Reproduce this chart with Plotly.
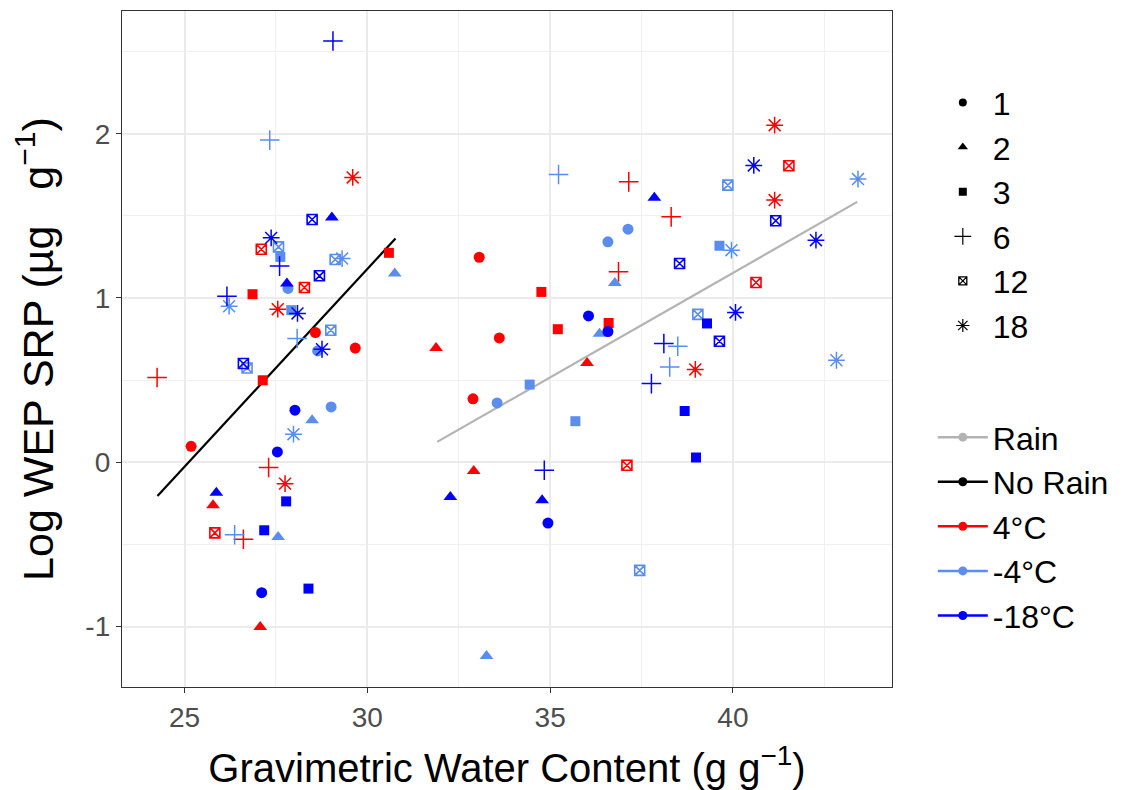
import plotly.graph_objects as go

# ---------------- data ----------------
gwc = [29.06, 27.33, 29.60, 28.49, 29.03, 27.37, 27.10, 27.57, 27.62, 27.60,
       30.59, 30.75, 29.12, 29.31, 28.69, 28.28, 27.80, 27.83, 26.86, 26.16,
       26.22, 27.55, 27.92, 28.09, 28.58, 29.00, 28.08, 29.67, 28.76, 28.64,
       26.61, 26.71, 24.25, 27.14, 28.02, 29.01, 28.49, 27.98, 25.18, 27.54,
       27.30, 27.75, 25.87, 25.78, 27.78, 25.83, 26.37, 26.61, 27.18, 27.56,
       27.11, 28.39, 27.07,
       35.23, 37.15, 37.85, 37.13, 36.58, 33.06, 36.87, 36.77, 34.76, 36.05,
       35.21, 36.60, 36.58, 36.35, 33.61, 31.88, 36.01, 34.44, 37.77, 32.89,
       33.55, 35.69, 37.10, 32.91, 34.84, 32.27, 34.78, 34.94, 37.45, 33.26,
       41.14, 40.57, 41.53, 43.42, 39.86, 41.14, 38.31, 41.17, 42.27, 39.63,
       39.96, 38.54, 40.63, 39.04, 39.29, 40.07, 39.63, 38.11, 38.49, 38.27,
       38.97, 42.83, 38.68, 38.99]
log_srp = [2.564, 1.961, 1.734, 1.478, 1.490, 1.366, 1.297, 1.311, 1.250, 1.194,
           1.275, 1.149, 1.234, 1.240, 1.135, 1.064, 1.088, 1.058, 1.023, 1.011,
           0.950, 0.932, 0.926, 0.906, 0.790, 0.804, 0.753, 0.695, 0.688, 0.678,
           0.601, 0.574, 0.516, 0.499, 0.317, 0.337, 0.256, 0.171, 0.097, 0.063,
           -0.032, -0.130, -0.185, -0.262, -0.238, -0.430, -0.441, -0.469, -0.414, -0.455,
           -0.794, -0.769, -1.003,
           1.752, 1.707, 1.610, 1.419, 1.342, 1.248, 1.159, 1.092, 1.037, 0.891,
           0.810, 0.848, 0.796, 0.782, 0.757, 0.695, 0.605, 0.473, 0.479, 0.386,
           0.361, 0.250, -0.018, -0.053, -0.049, -0.211, -0.231, -0.370, -0.658, -1.180,
           2.052, 1.807, 1.805, 1.724, 1.687, 1.596, 1.494, 1.470, 1.352, 1.318,
           1.291, 1.210, 1.094, 0.900, 0.845, 0.912, 0.737, 0.723, 0.706, 0.580,
           0.565, 0.621, 0.312, 0.029]
temp = ["-18°C", "-4°C", "4°C", "-18°C", "-18°C", "-18°C", "4°C", "-4°C", "-4°C", "-18°C",
        "4°C", "-4°C", "-4°C", "-4°C", "-18°C", "4°C", "-18°C", "-4°C", "4°C", "-18°C",
        "-4°C", "4°C", "-4°C", "-18°C", "4°C", "-4°C", "-4°C", "4°C", "-18°C", "-4°C",
        "-18°C", "-4°C", "4°C", "4°C", "-18°C", "-4°C", "-4°C", "-4°C", "4°C", "-18°C",
        "4°C", "4°C", "-18°C", "4°C", "-18°C", "4°C", "-4°C", "4°C", "-18°C", "-4°C",
        "-18°C", "-18°C", "4°C",
        "-4°C", "4°C", "-18°C", "-4°C", "-4°C", "4°C", "4°C", "-4°C", "4°C", "-18°C",
        "4°C", "4°C", "-18°C", "-4°C", "4°C", "4°C", "4°C", "-4°C", "-18°C", "4°C",
        "-4°C", "-4°C", "4°C", "4°C", "-18°C", "-18°C", "-18°C", "-18°C", "-4°C", "-4°C",
        "4°C", "-18°C", "4°C", "-4°C", "-4°C", "4°C", "4°C", "-18°C", "-18°C", "-4°C",
        "-4°C", "-18°C", "4°C", "-4°C", "-18°C", "-18°C", "-18°C", "-18°C", "-4°C", "-4°C",
        "4°C", "-4°C", "-18°C", "-18°C"]
day = [6, 6, 18, 12, 2, 18, 12, 12, 3, 6,
       3, 2, 12, 18, 12, 12, 2, 1, 3, 6,
       18, 18, 3, 18, 1, 12, 6, 1, 18, 1,
       12, 12, 6, 3, 1, 1, 2, 18, 1, 1,
       6, 18, 2, 2, 3, 12, 6, 6, 3, 2,
       1, 3, 2,
       6, 6, 2, 1, 1, 1, 6, 2, 3, 1,
       3, 3, 1, 2, 1, 2, 2, 3, 6, 1,
       1, 3, 12, 2, 6, 2, 2, 1, 12, 2,
       18, 18, 12, 18, 12, 18, 6, 12, 18, 3,
       18, 12, 12, 12, 3, 18, 12, 6, 6, 6,
       18, 18, 3, 3]

# regression lines (end points)
norain_fit_x = [24.26, 30.77]
norain_fit_y = [-0.205, 1.362]
rain_fit_x = [31.91, 43.40]
rain_fit_y = [0.124, 1.585]

day_levels = [1, 2, 3, 6, 12, 18]
temp_levels = ["4°C", "-4°C", "-18°C"]
x_ticks = [25, 30, 35, 40]
y_ticks = [-1, 0, 1, 2]

# ---------------- styling ----------------
temp_colors = {"4°C": "#FF0000", "-4°C": "#5A8DEE", "-18°C": "#0000FF"}
sym = {1: ("circle", 11, 0), 2: ("triangle-up", 12, 0), 3: ("square", 10, 0),
       6: ("cross-thin-open", 14, 1.5), 12: ("square-x-open", 10, 1.6),
       18: ("asterisk-open", 14, 1.5)}
leg_sym_size = {1: 8, 2: 9, 3: 8, 6: 12, 12: 8, 18: 11}
FONT = "Liberation Sans, Arial, sans-serif"

fig = go.Figure()

fig.add_trace(go.Scatter(x=norain_fit_x, y=norain_fit_y, mode="lines",
                         line=dict(color="black", width=2.2), showlegend=False,
                         hoverinfo="skip"))
fig.add_trace(go.Scatter(x=rain_fit_x, y=rain_fit_y, mode="lines",
                         line=dict(color="#B3B3B3", width=2.2), showlegend=False,
                         hoverinfo="skip"))

for t in temp_levels:
    for d in day_levels:
        idx = [i for i in range(len(gwc)) if temp[i] == t and day[i] == d]
        if not idx:
            continue
        s, size, lw = sym[d]
        fig.add_trace(go.Scatter(
            x=[gwc[i] for i in idx], y=[log_srp[i] for i in idx], mode="markers",
            marker=dict(symbol=s, size=size, color=temp_colors[t],
                        line=dict(color=temp_colors[t], width=lw)),
            showlegend=False, name=f"{t}, day {d}"))

# legend 1: shapes
for d in day_levels:
    s, size, lw = sym[d]
    fig.add_trace(go.Scatter(
        x=[None], y=[None], mode="markers", name=str(d), legend="legend",
        marker=dict(symbol=s, size=leg_sym_size[d], color="black",
                    line=dict(color="black", width=lw * 0.8 if lw else 0))))

# legend 2: colours
leg2 = [("Rain", "#B3B3B3"), ("No Rain", "black"), ("4°C", temp_colors["4°C"]),
        ("-4°C", temp_colors["-4°C"]), ("-18°C", temp_colors["-18°C"])]
for name, col in leg2:
    fig.add_trace(go.Scatter(
        x=[None], y=[None], mode="lines+markers", name=name, legend="legend2",
        line=dict(color=col, width=2.5), marker=dict(symbol="circle", size=9, color=col)))

axis_common = dict(showline=True, mirror=True, linecolor="#333333", linewidth=1.3,
                   gridcolor="#EBEBEB", gridwidth=1.6, zeroline=False,
                   ticks="outside", ticklen=5, tickcolor="#333333", tickwidth=1.2,
                   tickfont=dict(family=FONT, size=28, color="#4D4D4D"))

fig.update_layout(
    width=1126, height=790, plot_bgcolor="white", paper_bgcolor="white",
    margin=dict(l=122, r=234, t=11, b=103, autoexpand=False),
    font=dict(family=FONT, color="black"),
    xaxis=dict(range=[23.29, 44.35], tickvals=x_ticks, ticktext=[str(v) for v in x_ticks],
               minor=dict(tickvals=[27.5, 32.5, 37.5, 42.5], showgrid=True,
                          gridcolor="#F0F0F0", gridwidth=1.2, ticks=""),
               title=dict(text="Gravimetric Water Content (g g<sup>−1</sup>)",
                          font=dict(family=FONT, size=40), standoff=22),
               **axis_common),
    yaxis=dict(range=[-1.368, 2.747], tickvals=y_ticks, ticktext=[str(v) for v in y_ticks],
               minor=dict(tickvals=[-0.5, 0.5, 1.5, 2.5], showgrid=True,
                          gridcolor="#F0F0F0", gridwidth=1.2, ticks=""),
               title=dict(text="Log WEP SRP (µg   g<sup>−1</sup>)",
                          font=dict(family=FONT, size=43), standoff=18),
               **axis_common),
    legend=dict(x=1.053, y=0.905, xanchor="left", yanchor="top",
                font=dict(family=FONT, size=32), itemwidth=50, bgcolor="rgba(0,0,0,0)",
                tracegroupgap=0),
    legend2=dict(x=1.053, y=0.41, xanchor="left", yanchor="top",
                 font=dict(family=FONT, size=32), itemwidth=50, bgcolor="rgba(0,0,0,0)"),
)

fig.write_html("out.html")
